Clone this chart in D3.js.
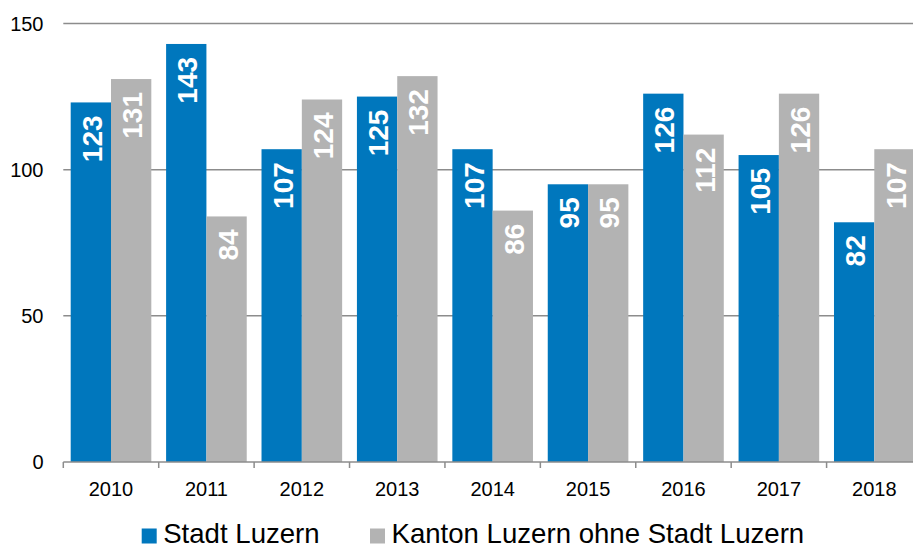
<!DOCTYPE html>
<html><head><meta charset="utf-8">
<script src="https://cdn.jsdelivr.net/npm/d3@7"></script>
<style>body{margin:0;background:#fff}svg{display:block}text{font-family:Arial,"Liberation Sans",sans-serif}</style>
</head><body><svg id="c" width="913" height="549"></svg>
<script>
const years = ["2010","2011","2012","2013","2014","2015","2016","2017","2018"];
const stadt = [123,143,107,125,107,95,126,105,82];
const kanton = [131,84,124,132,86,95,112,126,107];
const seriesNames = ["Stadt Luzern","Kanton Luzern ohne Stadt Luzern"];
const yTicks = [0,50,100,150];
const colors = ["#0077BD","#B3B3B3"];

const svg = d3.select("#c");
const x0 = 63.3, x1 = 922, yTop = 23.5, yBot = 462;
const x = d3.scaleBand().domain(years).range([x0,x1]).paddingInner(0.155).paddingOuter(0.0775);
const y = d3.scaleLinear().domain([0,150]).range([yBot,yTop]);
const xs = d3.scaleBand().domain([0,1]).range([0,x.bandwidth()]);

// gridlines
svg.append("g").selectAll("line").data(yTicks.filter(d=>d>0)).join("line")
  .attr("x1",x0).attr("x2",913).attr("y1",d=>y(d)).attr("y2",d=>y(d))
  .attr("stroke","#8C8C8C").attr("stroke-width",1.5);

// y labels
svg.append("g").selectAll("text").data(yTicks).join("text")
  .attr("x",43.5).attr("y",d=>y(d)).attr("dy","0.35em").attr("text-anchor","end")
  .attr("font-size",20).attr("fill","#000").text(d=>d);

const data = years.map((yr,i)=>({yr, vals:[stadt[i],kanton[i]]}));
const g = svg.append("g").selectAll("g").data(data).join("g")
  .attr("transform",d=>`translate(${x(d.yr)},0)`);
g.selectAll("rect").data(d=>d.vals.map((v,k)=>({v,k}))).join("rect")
  .attr("x",d=>xs(d.k)).attr("width",xs.bandwidth())
  .attr("y",d=>y(d.v)).attr("height",d=>y(0)-y(d.v))
  .attr("fill",d=>colors[d.k]);
g.selectAll("text").data(d=>d.vals.map((v,k)=>({v,k}))).join("text")
  .attr("transform",d=>`translate(${xs(d.k)+xs.bandwidth()/2+1},${y(d.v)+13}) rotate(-90)`)
  .attr("text-anchor","end").attr("dy","0.36em")
  .attr("font-size",28).attr("font-weight","bold").attr("fill","#fff").text(d=>d.v);

// x axis
const bounds = d3.range(0,10).map(i=>x0+i*(x1-x0)/9);
svg.append("line").attr("x1",x0).attr("x2",913).attr("y1",yBot).attr("y2",yBot)
  .attr("stroke","#8C8C8C").attr("stroke-width",1.5);
svg.append("g").selectAll("line").data(bounds).join("line")
  .attr("x1",d=>d).attr("x2",d=>d).attr("y1",yBot).attr("y2",yBot+6)
  .attr("stroke","#8C8C8C").attr("stroke-width",1.5);
svg.append("g").selectAll("text").data(years).join("text")
  .attr("x",d=>x(d)+x.bandwidth()/2).attr("y",496).attr("text-anchor","middle")
  .attr("font-size",20).attr("fill","#000").text(d=>d);

// legend
const legX = [141.7,370];
const lg = svg.append("g").selectAll("g").data(seriesNames).join("g");
lg.append("rect").attr("x",(d,i)=>legX[i]).attr("y",528.5).attr("width",15).attr("height",15)
  .attr("fill",(d,i)=>colors[i]);
lg.append("text").attr("x",(d,i)=>legX[i]+21.5).attr("y",543).attr("font-size",27.6)
  .attr("fill","#000").text(d=>d);
</script></body></html>
